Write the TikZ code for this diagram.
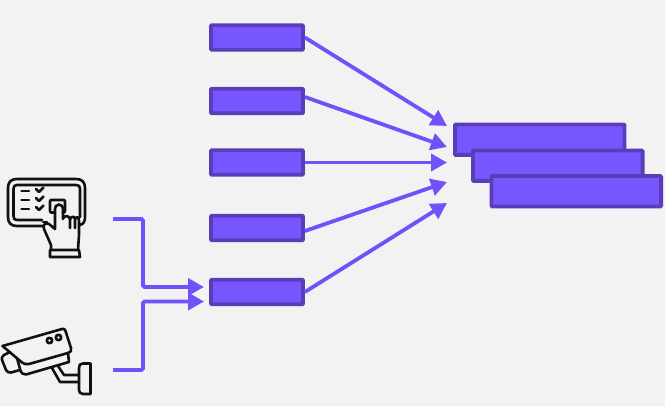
\documentclass[tikz,border=0pt]{standalone}
\usetikzlibrary{arrows.meta}
\definecolor{bg}{HTML}{F2F2F2}
\definecolor{fillv}{HTML}{7856FF}
\definecolor{edgev}{HTML}{5A3DB8}
\definecolor{linev}{HTML}{7250FA}
\definecolor{ink}{HTML}{111111}
\tikzset{
  x=1pt,y=-1pt,
  smallbox/.style={draw=edgev,fill=fillv,line width=3.8pt,rounded corners=0.8pt,minimum width=92pt,minimum height=24.4pt,inner sep=0pt},
  bigbox/.style={draw=edgev,fill=fillv,line width=3.8pt,rounded corners=0.8pt,minimum width=169.6pt,minimum height=30.4pt,inner sep=0pt},
  flow/.style={draw=linev,line width=3.8pt,-{Triangle[length=16pt,width=17pt,fill=linev]}},
  elbow/.style={flow,rounded corners=1.5pt},
  iconline/.style={draw=ink,line width=2.6pt,line cap=round,line join=round},
}
\begin{document}
\begin{tikzpicture}
\useasboundingbox[fill=bg] (0,0) rectangle (665,406);
\node[smallbox] (b1) at (257,37.5) {};
\node[smallbox] (b2) at (257,101) {};
\node[smallbox] (b3) at (257,162.5) {};
\node[smallbox] (b4) at (257,228) {};
\node[smallbox] (b5) at (257,292) {};
\node[bigbox] (r1) at (539.7,139.7) {};
\node[bigbox] (r2) at (557.8,165.7) {};
\node[bigbox] (r3) at (576.3,191.3) {};
\coordinate (t1) at (447,126);
\coordinate (t2) at (447,147);
\coordinate (t3) at (447,162.5);
\coordinate (t4) at (447,182);
\coordinate (t5) at (447,203);
\draw[flow] (b1.east) -- (t1);
\draw[flow] ([yshift=4pt]b2.east) -- (t2);
\draw[flow] (b3.east) -- (t3);
\draw[flow] ([yshift=-3pt]b4.east) -- (t4);
\draw[flow] (b5.east) -- (t5);
\coordinate (s1) at (113,219);
\coordinate (s2) at (113,370);
\coordinate (k1) at (143,219);
\coordinate (k2) at (143,370);
\coordinate (e1) at (204,287);
\coordinate (e2) at (204,301.5);
\draw[elbow] (s1) -- (k1) |- (e1);
\draw[elbow] (s2) -- (k2) |- (e2);
% tablet and hand icon
\draw[iconline] (43,226) -- (17,226) .. controls (11,226) and (8,223) .. (8,217) -- (8,188) .. controls (8,182) and (11,179) .. (17,179) -- (76,179) .. controls (82,179) and (85,182) .. (85,188) -- (85,217) .. controls (85,221) and (84,224) .. (80,225);
\draw[iconline] (42,220) -- (17,220) .. controls (14.5,220) and (13.5,219) .. (13.5,216) -- (13.5,189) .. controls (13.5,186) and (14.5,185) .. (17,185) -- (76,185) .. controls (79,185) and (80,186) .. (80,189) -- (80,217);
\draw[iconline] (43,222) -- (47,222);
\foreach \yy in {192,201,210}{
  \draw[iconline] (21.5,\yy-1) -- (29,\yy-1);
  \draw[iconline] (36,\yy-3) -- (39,\yy) -- (43.5,\yy-4.5);
}
\draw[iconline] (54,212.5) -- (51,212.5) .. controls (50,212.5) and (50,211) .. (50,210) -- (50,202) .. controls (50,201) and (50,200) .. (51,200) -- (64,200) .. controls (65,200) and (65,201) .. (65,202) -- (65,210) .. controls (65,211) and (65,212.5) .. (64,212.5) -- (63,212.5);
\draw[iconline] (59,204.5) .. controls (56,204.5) and (55,207) .. (55,209) -- (55,229) -- (49,224) .. controls (46,222) and (42,225) .. (44,229) -- (51,245) -- (51,250);
\draw[iconline] (59,204.5) .. controls (62,204.5) and (63,207) .. (63,209) -- (63,219);
\draw[iconline] (63,218) .. controls (66,215) and (69,216) .. (70,219) -- (70,228);
\draw[iconline] (70,219) .. controls (72,216) and (74,216) .. (75,219) -- (75,228);
\draw[iconline] (75,219) .. controls (77,216) and (79,217) .. (79,221) -- (79,235) -- (78,250);
\draw[iconline] (50,250) -- (79,250) -- (80,257) -- (50,257) -- cycle;
% camera icon
\draw[iconline] (2.5,346) -- (62,329) .. controls (64,328.5) and (65,329) .. (65.5,331) -- (71,348) .. controls (71.5,351) and (71,352) .. (68,353) -- (29,364) .. controls (26,364.5) and (24,364) .. (22,362.5) -- cycle;
\draw[iconline] (17,358) -- (20,369) .. controls (21,373) and (23,375) .. (26,374.5) -- (69,362) -- (68,353);
\draw[iconline] (10,352) -- (4,355) .. controls (2,356) and (1.5,358) .. (2,360) -- (6,370) .. controls (7,372) and (9,373) .. (11,372.5) -- (20,370);
\draw[iconline] (52,368) -- (60,382) -- (79,382);
\draw[iconline] (58,366) -- (64,375) -- (79,375);
\draw[iconline] (83,363.5) -- (90.5,363.5) -- (90.5,394) -- (83,394) .. controls (80,394) and (79,392) .. (79,390) -- (79,368) .. controls (79,365) and (80,363.5) .. (83,363.5) -- cycle;
\draw[iconline] (49.5,340.5) circle (2.7);
\draw[iconline] (58.5,337.5) circle (2.7);
\end{tikzpicture}
\end{document}
